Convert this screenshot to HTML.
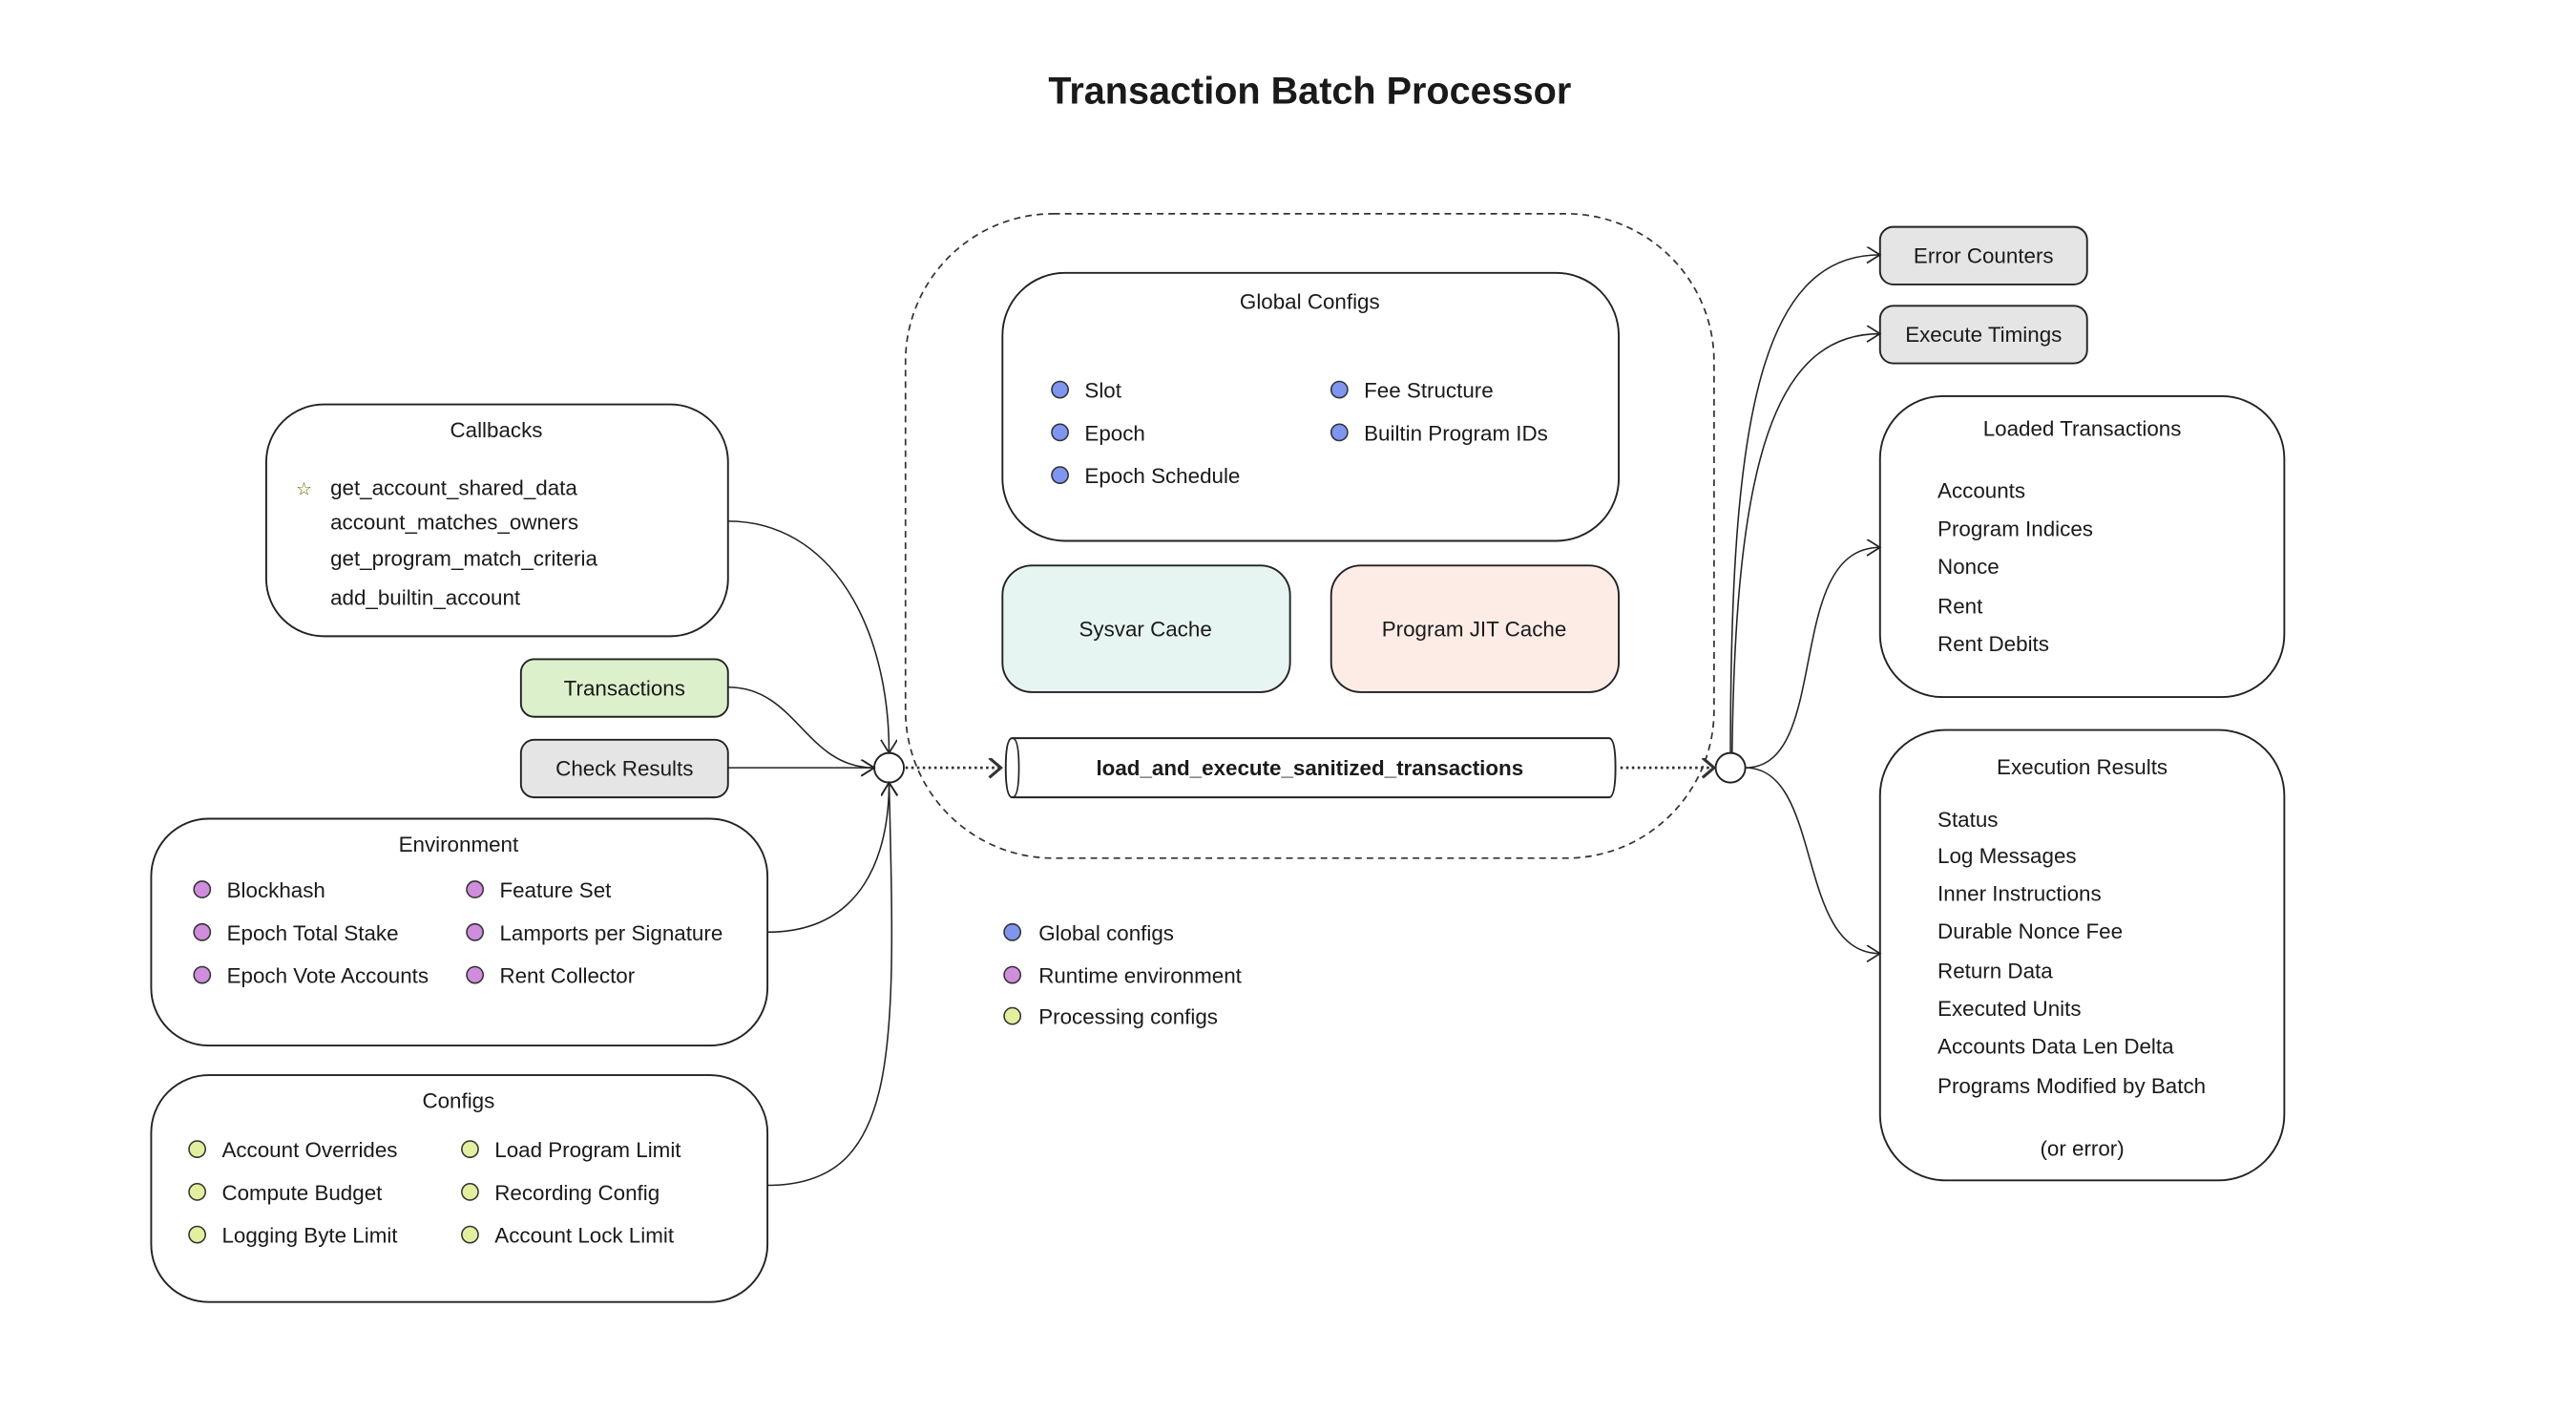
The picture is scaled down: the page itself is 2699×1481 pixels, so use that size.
<!DOCTYPE html>
<html><head><meta charset="utf-8"><style>
html,body{margin:0;padding:0;background:#fff;}
svg{display:block;}
text{font-family:"Liberation Sans",sans-serif;fill:#1a1a1a;font-size:13px;}
</style></head><body>
<svg width="2699" height="1481" viewBox="0 0 1567.5 860.1" xmlns="http://www.w3.org/2000/svg">
<defs>
<marker id="a" markerWidth="12" markerHeight="12" refX="9" refY="5" orient="auto" markerUnits="userSpaceOnUse">
<path d="M1,0 L9,5 L1,10" fill="none" stroke="#222" stroke-width="1"/>
</marker>
<marker id="b" markerWidth="12" markerHeight="14" refX="9" refY="6" orient="auto" markerUnits="userSpaceOnUse">
<path d="M2,0 L9,6 L2,12" fill="none" stroke="#333" stroke-width="1.8"/>
</marker>
</defs>
<rect width="1567.5" height="860.1" fill="#fff"/>
<text x="797" y="63" text-anchor="middle" style="font-size:23px;font-weight:bold">Transaction Batch Processor</text>

<rect x="551" y="130" width="492" height="392" rx="90" fill="none" stroke="#333" stroke-width="1" stroke-dasharray="4,3"/>

<rect x="610" y="166" width="375" height="163" rx="38" fill="#fff" stroke="#222" stroke-width="1.1"/>
<text x="797" y="188" text-anchor="middle">Global Configs</text>
<g fill="#7f95f0" stroke="#333" stroke-width="0.9">
<circle cx="645" cy="237" r="5"/><circle cx="645" cy="263" r="5"/><circle cx="645" cy="289" r="5"/>
<circle cx="815" cy="237" r="5"/><circle cx="815" cy="263" r="5"/>
</g>
<text x="660" y="242">Slot</text><text x="660" y="268">Epoch</text><text x="660" y="294">Epoch Schedule</text>
<text x="830" y="242">Fee Structure</text><text x="830" y="268">Builtin Program IDs</text>

<rect x="610" y="344" width="175" height="77" rx="18" fill="#e6f5f1" stroke="#222" stroke-width="1.1"/>
<text x="697" y="387" text-anchor="middle">Sysvar Cache</text>
<rect x="810" y="344" width="175" height="77" rx="18" fill="#fdece6" stroke="#222" stroke-width="1.1"/>
<text x="897" y="387" text-anchor="middle">Program JIT Cache</text>

<path d="M616,449 L979,449 Q983,449 983,467 Q983,485 979,485 L616,485 Q612,485 612,467 Q612,449 616,449 Z" fill="#fff" stroke="#222" stroke-width="1.1"/>
<path d="M616,449 Q620,449 620,467 Q620,485 616,485" fill="none" stroke="#222" stroke-width="1"/>
<text x="797" y="471.5" text-anchor="middle" style="font-weight:bold">load_and_execute_sanitized_transactions</text>

<circle cx="541" cy="467" r="9" fill="#fff" stroke="#222" stroke-width="1.1"/>
<circle cx="1053" cy="467" r="9" fill="#fff" stroke="#222" stroke-width="1.1"/>
<path d="M551,467 L609,467" stroke="#333" stroke-width="1.6" stroke-dasharray="1.5,2" fill="none" marker-end="url(#b)"/>
<path d="M986,467 L1043,467" stroke="#333" stroke-width="1.6" stroke-dasharray="1.5,2" fill="none" marker-end="url(#b)"/>

<rect x="162" y="246" width="281" height="141" rx="35" fill="#fff" stroke="#222" stroke-width="1.1"/>
<text x="302" y="266" text-anchor="middle">Callbacks</text>
<text x="185" y="301" text-anchor="middle" style="font-size:11px;fill:#6b6b00">☆</text>
<text x="201" y="301">get_account_shared_data</text>
<text x="201" y="322">account_matches_owners</text>
<text x="201" y="344">get_program_match_criteria</text>
<text x="201" y="368">add_builtin_account</text>

<rect x="317" y="401" width="126" height="35" rx="8" fill="#dcf0cc" stroke="#222" stroke-width="1.1"/>
<text x="380" y="423" text-anchor="middle">Transactions</text>
<rect x="317" y="450" width="126" height="35" rx="8" fill="#e5e5e5" stroke="#222" stroke-width="1.1"/>
<text x="380" y="472" text-anchor="middle">Check Results</text>

<rect x="92" y="498" width="375" height="138" rx="35" fill="#fff" stroke="#222" stroke-width="1.1"/>
<text x="279" y="518" text-anchor="middle">Environment</text>
<g fill="#cf8ddb" stroke="#333" stroke-width="0.9">
<circle cx="123" cy="541" r="5"/><circle cx="123" cy="567" r="5"/><circle cx="123" cy="593" r="5"/>
<circle cx="289" cy="541" r="5"/><circle cx="289" cy="567" r="5"/><circle cx="289" cy="593" r="5"/>
</g>
<text x="138" y="546">Blockhash</text><text x="138" y="572">Epoch Total Stake</text><text x="138" y="598">Epoch Vote Accounts</text>
<text x="304" y="546">Feature Set</text><text x="304" y="572">Lamports per Signature</text><text x="304" y="598">Rent Collector</text>

<rect x="92" y="654" width="375" height="138" rx="35" fill="#fff" stroke="#222" stroke-width="1.1"/>
<text x="279" y="674" text-anchor="middle">Configs</text>
<g fill="#e3ef9e" stroke="#333" stroke-width="0.9">
<circle cx="120" cy="699" r="5"/><circle cx="120" cy="725" r="5"/><circle cx="120" cy="751" r="5"/>
<circle cx="286" cy="699" r="5"/><circle cx="286" cy="725" r="5"/><circle cx="286" cy="751" r="5"/>
</g>
<text x="135" y="704">Account Overrides</text><text x="135" y="730">Compute Budget</text><text x="135" y="756">Logging Byte Limit</text>
<text x="301" y="704">Load Program Limit</text><text x="301" y="730">Recording Config</text><text x="301" y="756">Account Lock Limit</text>

<g fill="none" stroke="#333" stroke-width="0.9">
<circle cx="616" cy="567" r="5" fill="#7f95f0"/><circle cx="616" cy="593" r="5" fill="#cf8ddb"/><circle cx="616" cy="618" r="5" fill="#e3ef9e"/>
</g>
<text x="632" y="572">Global configs</text><text x="632" y="598">Runtime environment</text><text x="632" y="623">Processing configs</text>

<rect x="1144" y="138" width="126" height="35" rx="8" fill="#e5e5e5" stroke="#222" stroke-width="1.1"/>
<text x="1207" y="160" text-anchor="middle">Error Counters</text>
<rect x="1144" y="186" width="126" height="35" rx="8" fill="#e5e5e5" stroke="#222" stroke-width="1.1"/>
<text x="1207" y="208" text-anchor="middle">Execute Timings</text>

<rect x="1144" y="241" width="246" height="183" rx="38" fill="#fff" stroke="#222" stroke-width="1.1"/>
<text x="1267" y="265" text-anchor="middle">Loaded Transactions</text>
<text x="1179" y="303">Accounts</text><text x="1179" y="326">Program Indices</text><text x="1179" y="349">Nonce</text><text x="1179" y="373">Rent</text><text x="1179" y="396">Rent Debits</text>

<rect x="1144" y="444" width="246" height="274" rx="40" fill="#fff" stroke="#222" stroke-width="1.1"/>
<text x="1267" y="471" text-anchor="middle">Execution Results</text>
<text x="1179" y="503">Status</text><text x="1179" y="525">Log Messages</text><text x="1179" y="548">Inner Instructions</text><text x="1179" y="571">Durable Nonce Fee</text><text x="1179" y="595">Return Data</text><text x="1179" y="618">Executed Units</text><text x="1179" y="641">Accounts Data Len Delta</text><text x="1179" y="665">Programs Modified by Batch</text>
<text x="1267" y="703" text-anchor="middle">(or error)</text>

<g fill="none" stroke="#222" stroke-width="0.9">
<path d="M443,317 C505,317 541,380 541,458" marker-end="url(#a)"/>
<path d="M443,418 C485,418 490,467 532,467" marker-end="url(#a)"/>
<path d="M443,467 L532,467" marker-end="url(#a)"/>
<path d="M467,567 C525,567 541,520 541,476" marker-end="url(#a)"/>
<path d="M467,721 C548,721 545,640 541,476" marker-end="url(#a)"/>
<path d="M1053,458 C1053,260 1070,155 1144,155" marker-end="url(#a)"/>
<path d="M1054,458 C1056,280 1080,203 1144,203" marker-end="url(#a)"/>
<path d="M1062,467 C1115,467 1085,333 1144,333" marker-end="url(#a)"/>
<path d="M1062,467 C1110,467 1092,580 1144,580" marker-end="url(#a)"/>
</g>
</svg>
</body></html>
